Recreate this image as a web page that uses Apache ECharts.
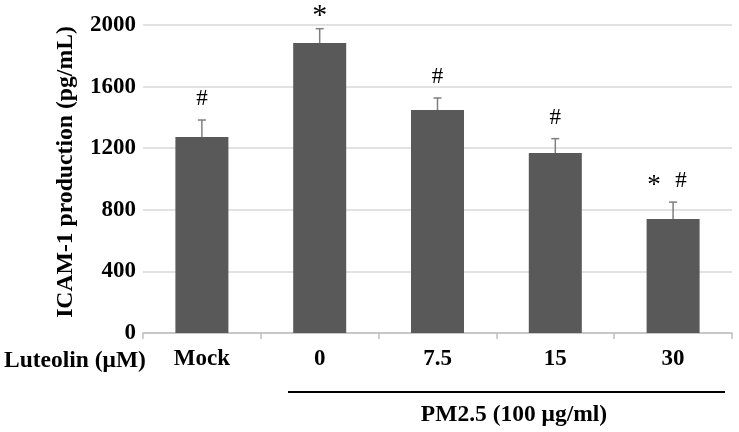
<!DOCTYPE html>
<html><head><meta charset="utf-8">
<script src="https://cdn.jsdelivr.net/npm/echarts@6/dist/echarts.min.js"></script>
<style>html,body{margin:0;padding:0;background:#fff}#c{width:739px;height:432px}</style>
</head><body><div id="c"></div>
<script>
const categories = ['Mock', '0', '7.5', '15', '30'];
const values = [1273, 1883, 1448, 1169, 740];
const errors = [110, 93, 78, 93, 110];
const marks = [['#'], ['*'], ['#'], ['#'], ['*', '#']];
const yTicks = [0, 400, 800, 1200, 1600, 2000];
const yTitle = 'ICAM-1 production (pg/mL)';

const FONT = '"Liberation Serif", "Times New Roman", serif';
const chart = echarts.init(document.getElementById('c'), null, {renderer: 'canvas'});
const errData = values.map((v, i) => [i, v, errors[i]]);

chart.setOption({
  animation: false,
  grid: {left: 143, right: 7, top: 25, bottom: 99},
  xAxis: {
    type: 'category', data: categories,
    axisLine: {lineStyle: {color: '#bfbfbf', width: 1.5}},
    axisTick: {show: true, length: 6, lineStyle: {color: '#bfbfbf', width: 1.5}},
    axisLabel: {fontFamily: FONT, fontWeight: 'bold', fontSize: 23, color: '#000', margin: 15}
  },
  yAxis: {
    type: 'value', min: yTicks[0], max: yTicks[yTicks.length - 1], interval: 400,
    axisLine: {show: false}, axisTick: {show: false},
    axisLabel: {fontFamily: FONT, fontWeight: 'bold', fontSize: 23, color: '#000', margin: 7,
      formatter: function (v) { return String(v); }},
    splitLine: {lineStyle: {color: '#d9d9d9', width: 1.5}}
  },
  series: [
    {type: 'bar', data: values, barWidth: '45%', itemStyle: {color: '#595959'}},
    {
      type: 'custom', data: errData, z: 10,
      renderItem: function (params, api) {
        const x = api.value(0), v = api.value(1), e = api.value(2);
        const base = api.coord([x, v]);
        const top = api.coord([x, v + e]);
        const toks = marks[params.dataIndex];
        const offs = toks.length === 1 ? [0] : [-19, 8];
        const children = [
          {type: 'line', shape: {x1: base[0], y1: base[1], x2: top[0], y2: top[1]}, style: {stroke: '#7f7f7f', lineWidth: 1.5}},
          {type: 'line', shape: {x1: top[0] - 4, y1: top[1], x2: top[0] + 4, y2: top[1]}, style: {stroke: '#7f7f7f', lineWidth: 1.5}}
        ];
        toks.forEach(function (t, k) {
          const star = t === '*';
          const pair = toks.length > 1;
          const size = star ? (pair ? 27 : 30) : 23;
          const dy = star ? (pair ? 16 : 13) : 21;
          children.push({type: 'text', x: top[0] + offs[k], y: top[1] - dy,
            style: {text: t, fontFamily: FONT, fontSize: size, fill: '#000', align: 'center', verticalAlign: 'middle'}});
        });
        return {type: 'group', children: children};
      }
    }
  ],
  graphic: [
    {type: 'text', x: 66, y: 172, rotation: Math.PI / 2,
      style: {text: yTitle, fontFamily: FONT, fontWeight: 'bold', fontSize: 23.7, fill: '#000', align: 'center', verticalAlign: 'middle'}},
    {type: 'text', left: 4, top: 349, style: {text: 'Luteolin (μM)', fontFamily: FONT, fontWeight: 'bold', fontSize: 23.5, fill: '#000'}},
    {type: 'line', shape: {x1: 288, y1: 392, x2: 725, y2: 392}, style: {stroke: '#000', lineWidth: 2}},
    {type: 'text', x: 514, y: 415, style: {text: 'PM2.5 (100 μg/ml)', fontFamily: FONT, fontWeight: 'bold', fontSize: 23.5, fill: '#000', align: 'center', verticalAlign: 'middle'}}
  ]
});
</script></body></html>
